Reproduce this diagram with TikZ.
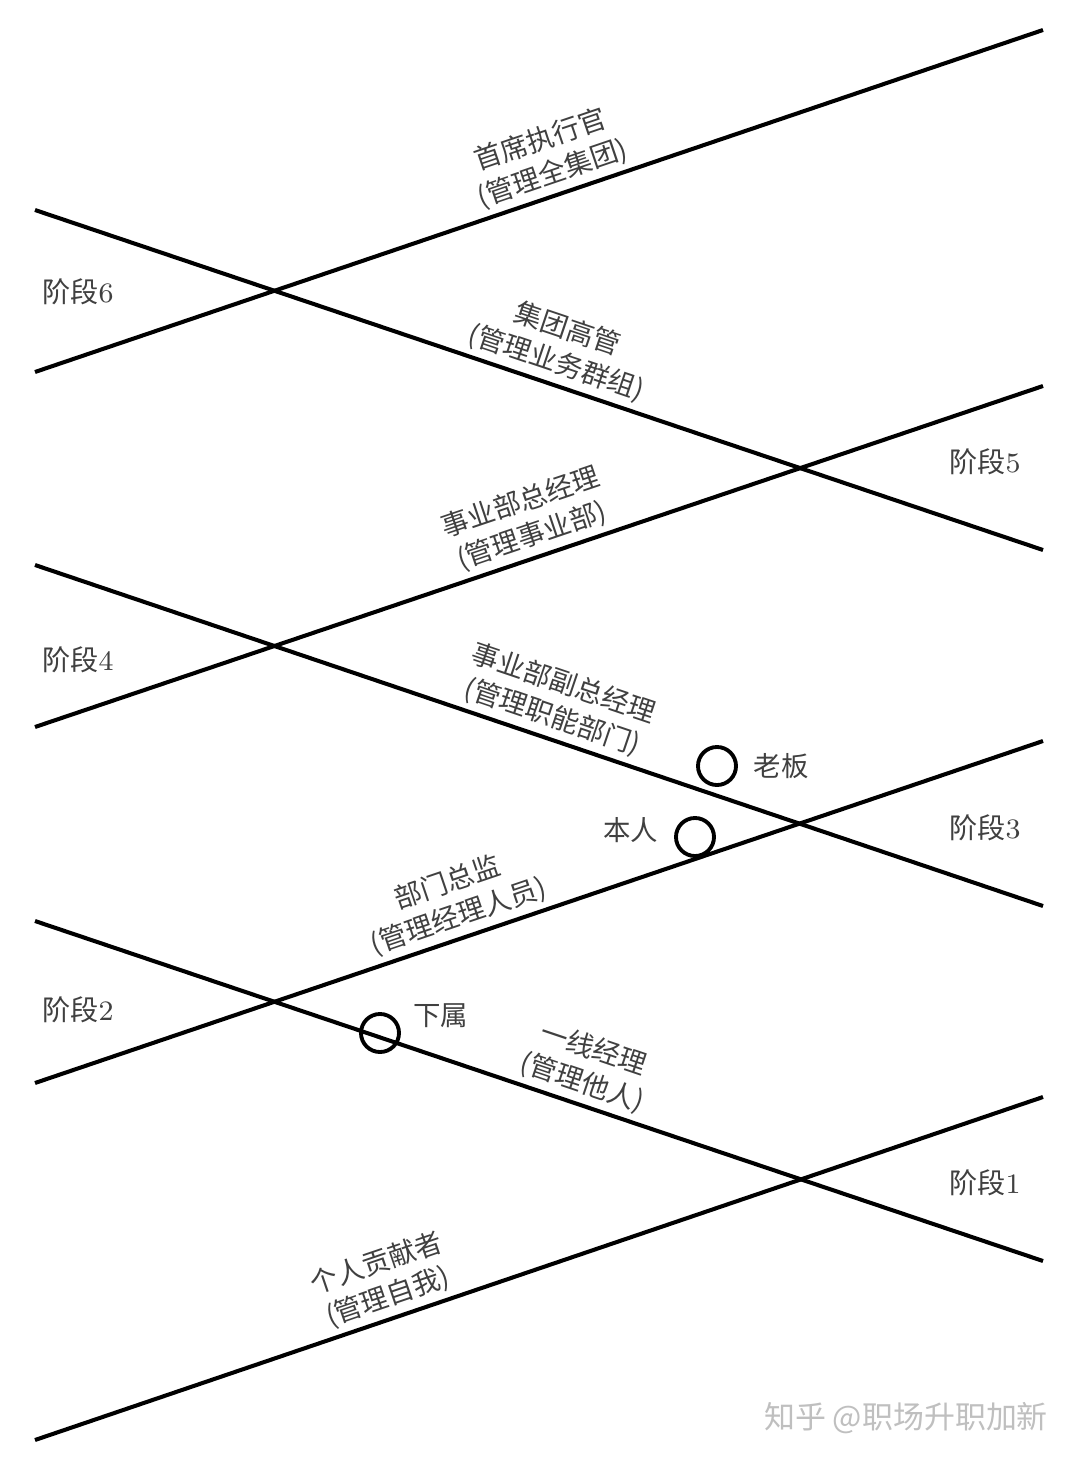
\documentclass[tikz,border=0pt]{standalone}
\usepackage{fontspec}
\newfontfamily\cjk{Noto Sans CJK SC}
\usetikzlibrary{positioning}
\begin{document}
\begin{tikzpicture}[
  x=0.01cm, y=-0.01cm,
  every node/.style={font=\cjk\fontsize{7.8}{10}\selectfont, text=black!75},
  stair/.style={draw, line width=1.15pt},
  role/.style={sloped, above, align=center, inner sep=1.5pt},
  ring/.style={draw, circle, line width=1.1pt, minimum size=0.38cm, inner sep=0pt},
  stage/.style={font=\cjk\fontsize{8}{10}\selectfont}
]
\useasboundingbox[fill=white] (0,0) rectangle (1080,1463);
\coordinate (L1a) at (35,1440); \coordinate (L1b) at (1043,1097);
\coordinate (L2a) at (35,921);  \coordinate (L2b) at (1043,1261);
\coordinate (L3a) at (35,1083); \coordinate (L3b) at (1043,741);
\coordinate (L4a) at (35,565);  \coordinate (L4b) at (1043,906);
\coordinate (L5a) at (35,727);  \coordinate (L5b) at (1043,386);
\coordinate (L6a) at (35,210);  \coordinate (L6b) at (1043,550);
\coordinate (L7a) at (35,372);  \coordinate (L7b) at (1043,30);

\draw[stair] (L1a) -- node[role, pos=0.357] (ic) {个人贡献者\\(管理自我)} (L1b);
\draw[stair] (L2a) -- node[role, pos=0.536] (flm) {一线经理\\(管理他人)} (L2b);
\draw[stair] (L3a) -- node[role, pos=0.427] (dir) {部门总监\\(管理经理人员)} (L3b);
\draw[stair] (L4a) -- node[role, pos=0.506] (vgm) {事业部副总经理\\(管理职能部门)} (L4b);
\draw[stair] (L5a) -- node[role, pos=0.50] (gm) {事业部总经理\\(管理事业部)} (L5b);
\draw[stair] (L6a) -- node[role, pos=0.51] (grp) {集团高管\\(管理业务群组)} (L6b);
\draw[stair] (L7a) -- node[role, pos=0.52] (ceo) {首席执行官\\(管理全集团)} (L7b);

\node[stage] (s6) at (78,292)  {阶段{\rmfamily 6}};
\node[stage] (s5) at (985,462) {阶段{\rmfamily 5}};
\node[stage] (s4) at (78,660)  {阶段{\rmfamily 4}};
\node[stage] (s3) at (985,828) {阶段{\rmfamily 3}};
\node[stage] (s2) at (78,1010) {阶段{\rmfamily 2}};
\node[stage] (s1) at (985,1183) {阶段{\rmfamily 1}};

\node[ring] (boss) at (717,766) {};
\node[right=1pt of boss] (bossL) {老板};
\node[ring] (self) at (695,837) {};
\node[left=1pt of self, yshift=2pt] (selfL) {本人};
\node[ring] (sub) at (380,1033) {};
\node[right=0pt of sub, yshift=5pt] (subL) {下属};

\node[font=\cjk\fontsize{8.8}{10}\selectfont, text=black!25] (wm) at (906,1418) {知乎 @职场升职加新};
\end{tikzpicture}
\end{document}
